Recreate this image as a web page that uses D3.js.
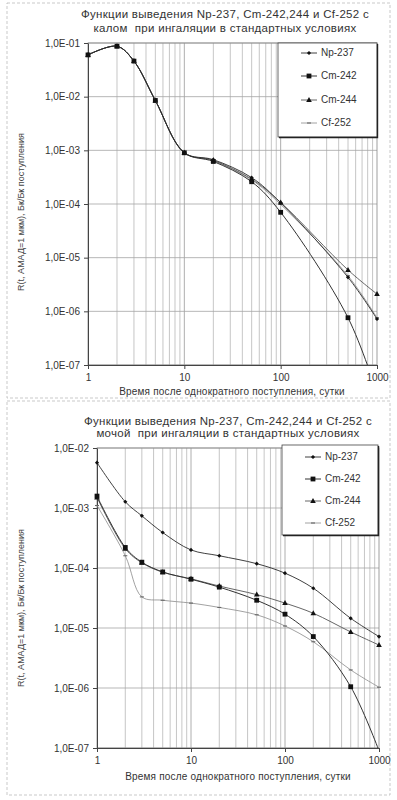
<!DOCTYPE html>
<html>
<head>
<meta charset="utf-8">
<script src="https://cdn.jsdelivr.net/npm/d3@7"></script>
<style>
  body { margin: 0; background: #fff; }
  svg { font-family: "Liberation Sans", Arial, sans-serif; }
  .title { white-space: pre; }
</style>
</head>
<body>
<div id="root"></div>
<script>
// Data: feces (top chart)
const fecesDays = [1, 2, 3, 5, 10, 20, 50, 100, 500, 1000];
const fecesNp237 = [6.0e-2, 8.7e-2, 4.6e-2, 8.5e-3, 9.0e-4, 6.7e-4, 3.1e-4, 1.05e-4, 4.3e-6, 7.2e-7];
const fecesCm242 = [6.0e-2, 8.7e-2, 4.6e-2, 8.5e-3, 9.0e-4, 6.2e-4, 2.6e-4, 7.0e-5, 7.6e-7, 3.0e-8];
const fecesCm244 = [6.0e-2, 8.7e-2, 4.6e-2, 8.5e-3, 9.0e-4, 6.5e-4, 2.9e-4, 1.07e-4, 5.9e-6, 2.1e-6];
const fecesCf252 = [6.0e-2, 8.7e-2, 4.6e-2, 8.5e-3, 9.0e-4, 6.4e-4, 2.8e-4, 9.8e-5, 4.6e-6, 7.6e-7];

// Data: urine (bottom chart)
const urineDays = [1, 2, 3, 5, 10, 20, 50, 100, 200, 500, 1000];
const urineNp237 = [5.7e-3, 1.27e-3, 7.4e-4, 3.9e-4, 2.0e-4, 1.6e-4, 1.18e-4, 8.2e-5, 4.6e-5, 1.45e-5, 7.2e-6];
const urineCm242 = [1.58e-3, 2.2e-4, 1.25e-4, 8.6e-5, 6.5e-5, 4.8e-5, 2.9e-5, 1.7e-5, 7.2e-6, 1.05e-6, 9.0e-8];
const urineCm244 = [1.5e-3, 2.1e-4, 1.22e-4, 8.5e-5, 6.6e-5, 5.0e-5, 3.6e-5, 2.6e-5, 1.76e-5, 8.6e-6, 5.2e-6];
const urineCf252 = [1.1e-3, 1.6e-4, 3.3e-5, 2.9e-5, 2.6e-5, 2.2e-5, 1.66e-5, 1.08e-5, 5.9e-6, 2.0e-6, 1.03e-6];

const seriesNames = ["Np-237", "Cm-242", "Cm-244", "Cf-252"];
const xTickValues = [1, 10, 100, 1000];
const xTickLabels = ["1", "10", "100", "1000"];
const fecesYTicks = [1e-1, 1e-2, 1e-3, 1e-4, 1e-5, 1e-6, 1e-7];
const fecesYLabels = ["1,0E-01", "1,0E-02", "1,0E-03", "1,0E-04", "1,0E-05", "1,0E-06", "1,0E-07"];
const urineYTicks = [1e-2, 1e-3, 1e-4, 1e-5, 1e-6, 1e-7];
const urineYLabels = ["1,0E-02", "1,0E-03", "1,0E-04", "1,0E-05", "1,0E-06", "1,0E-07"];

const titleFeces = ["Функции выведения Np-237, Cm-242,244 и Cf-252 с", "калом  при ингаляции в стандартных условиях"];
const titleUrine = ["Функции выведения Np-237, Cm-242,244 и Cf-252 с", "мочой  при ингаляции в стандартных условиях"];
const xTitle = "Время после однократного поступления, сутки";
const yTitle = "R(t, АМАД=1 мкм), Бк/Бк поступления";

// series styles
const styles = [
  { stroke: "#2a2a2a", width: 0.9, marker: "diamond" },
  { stroke: "#333", width: 1, marker: "square" },
  { stroke: "#555", width: 0.9, marker: "triangle" },
  { stroke: "#8a8a8a", width: 0.8, marker: "dash" }
];

const svg = d3.select("#root")
  .append("svg")
  .attr("width", 397)
  .attr("height", 800);

function marker(g, type, x, y) {
  if (type === "diamond") {
    g.append("path").attr("d", d3.symbol(d3.symbolDiamond2, 11)()).attr("transform", `translate(${x},${y})`).attr("fill", "#111");
  } else if (type === "square") {
    g.append("rect").attr("x", x - 2.4).attr("y", y - 2.4).attr("width", 4.8).attr("height", 4.8).attr("fill", "#111");
  } else if (type === "triangle") {
    g.append("path").attr("d", `M${x},${y - 3}L${x + 2.8},${y + 2}L${x - 2.8},${y + 2}Z`).attr("fill", "#111");
  } else {
    g.append("line").attr("x1", x - 2).attr("x2", x + 2).attr("y1", y).attr("y2", y).attr("stroke", "#666").attr("stroke-width", 1.1);
  }
}

function drawChart(cfg) {
  const g = svg.append("g");

  // outer frame
  g.append("rect")
    .attr("x", cfg.frame[0]).attr("y", cfg.frame[1])
    .attr("width", cfg.frame[2]).attr("height", cfg.frame[3])
    .attr("fill", "none").attr("stroke", "#bbb").attr("stroke-width", 0.8)
    .attr("stroke-dasharray", "3,2");

  const x = d3.scaleLog().domain([1, 1000]).range([cfg.left, cfg.right]);
  const y = d3.scaleLog().domain(cfg.yDomain).range([cfg.bottom, cfg.top]);

  // vertical grid (every integer in each decade)
  const minor = [];
  [1, 10, 100].forEach(d => { for (let k = 1; k <= 9; k++) minor.push(d * k); });
  g.append("g").selectAll("line").data(minor.filter(v => v > 1)).join("line")
    .attr("x1", d => x(d)).attr("x2", d => x(d))
    .attr("y1", cfg.top).attr("y2", cfg.bottom)
    .attr("stroke", d => xTickValues.includes(d) ? "#999" : "#b8b8b8")
    .attr("stroke-width", 0.8);

  // horizontal grid
  g.append("g").selectAll("line").data(cfg.yTicks).join("line")
    .attr("x1", cfg.left).attr("x2", cfg.right)
    .attr("y1", d => y(d)).attr("y2", d => y(d))
    .attr("stroke", "#a5a5a5").attr("stroke-width", 0.8);

  // plot border
  g.append("rect")
    .attr("x", cfg.left).attr("y", cfg.top)
    .attr("width", cfg.right - cfg.left).attr("height", cfg.bottom - cfg.top)
    .attr("fill", "none").attr("stroke", "#888").attr("stroke-width", 0.8);

  // axes
  const xAxis = g.append("g")
    .attr("transform", `translate(0,${cfg.bottom})`)
    .call(d3.axisBottom(x).tickValues(xTickValues).tickFormat((d, i) => xTickLabels[i]).tickSize(4).tickSizeOuter(0));
  xAxis.select(".domain").attr("stroke", "#444");
  xAxis.selectAll("line").attr("stroke", "#444");
  xAxis.selectAll("text").attr("font-size", 10).attr("fill", "#333").attr("dy", "0.9em")
    .attr("font-family", "\"Liberation Sans\", Arial, sans-serif");

  const yAxis = g.append("g")
    .attr("transform", `translate(${cfg.left},0)`)
    .call(d3.axisLeft(y).tickValues(cfg.yTicks).tickFormat((d, i) => cfg.yLabels[i]).tickSize(4).tickSizeOuter(0));
  yAxis.select(".domain").attr("stroke", "#444");
  yAxis.selectAll("line").attr("stroke", "#444");
  yAxis.selectAll("text").attr("font-size", 10).attr("fill", "#333").attr("dx", "-0.1em")
    .attr("font-family", "\"Liberation Sans\", Arial, sans-serif");

  // clip for curves
  const clipId = "clip" + cfg.id;
  svg.append("clipPath").attr("id", clipId).append("rect")
    .attr("x", cfg.left).attr("y", cfg.top)
    .attr("width", cfg.right - cfg.left).attr("height", cfg.bottom - cfg.top);

  const line = d3.line()
    .x(d => x(d[0])).y(d => y(d[1]))
    .curve(d3.curveCatmullRom.alpha(0.5));

  // draw in reverse so Np-237 on top
  for (let s = cfg.series.length - 1; s >= 0; s--) {
    const pts = cfg.days.map((d, i) => [d, cfg.series[s][i]]);
    g.append("path")
      .attr("d", line(pts))
      .attr("clip-path", `url(#${clipId})`)
      .attr("fill", "none")
      .attr("stroke", styles[s].stroke)
      .attr("stroke-width", styles[s].width);
    const mg = g.append("g");
    pts.filter(p => p[1] >= cfg.yDomain[0]).forEach(p => marker(mg, styles[s].marker, x(p[0]), y(p[1])));
  }

  // titles
  cfg.title.forEach((t, i) => {
    g.append("text")
      .attr("class", "title")
      .attr("x", cfg.titleX).attr("y", cfg.titleY[i])
      .attr("text-anchor", "middle").attr("dominant-baseline", "middle")
      .attr("font-size", 11.5).attr("fill", "#333").attr("letter-spacing", 0.3)
      .text(t);
  });

  g.append("text")
    .attr("x", cfg.xTitleX).attr("y", cfg.xTitleY)
    .attr("text-anchor", "middle").attr("dominant-baseline", "middle")
    .attr("font-size", 10).attr("fill", "#333").attr("letter-spacing", 0.2)
    .text(xTitle);

  g.append("text")
    .attr("transform", `translate(${cfg.yTitleX},${cfg.yTitleY}) rotate(-90)`)
    .attr("text-anchor", "middle").attr("dominant-baseline", "middle")
    .attr("font-size", 9).attr("fill", "#444")
    .text(yTitle);

  // legend
  const lg = g.append("g");
  const [lx, ly, lw, lh] = cfg.legend;
  lg.append("rect").attr("x", lx).attr("y", ly).attr("width", lw).attr("height", lh)
    .attr("fill", "#fff").attr("stroke", "#444").attr("stroke-width", 0.8);
  lg.append("path")
    .attr("d", `M${lx + 1},${ly + lh + 0.5}H${lx + lw + 0.5}V${ly + 1}`)
    .attr("fill", "none").attr("stroke", "#222").attr("stroke-width", 1.4);
  seriesNames.forEach((name, i) => {
    const yy = cfg.legendRows[i];
    lg.append("line")
      .attr("x1", lx + 23).attr("x2", lx + 39).attr("y1", yy).attr("y2", yy)
      .attr("stroke", styles[i].stroke).attr("stroke-width", styles[i].width);
    marker(lg, styles[i].marker, lx + 31, yy);
    lg.append("text")
      .attr("x", lx + 43).attr("y", yy)
      .attr("dominant-baseline", "middle")
      .attr("font-size", 10).attr("fill", "#333")
      .text(name);
  });
}

drawChart({
  id: "feces",
  frame: [7, 3, 383, 395],
  left: 88, right: 377, top: 43, bottom: 365,
  yDomain: [1e-7, 1e-1], yTicks: fecesYTicks, yLabels: fecesYLabels,
  days: fecesDays,
  series: [fecesNp237, fecesCm242, fecesCm244, fecesCf252],
  title: titleFeces, titleX: 225, titleY: [15, 29],
  xTitleX: 232, xTitleY: 392,
  yTitleX: 22, yTitleY: 212,
  legend: [278, 43, 99, 94],
  legendRows: [53, 76, 100, 123]
});

drawChart({
  id: "urine",
  frame: [7, 401, 383, 394],
  left: 97, right: 379, top: 448, bottom: 748,
  yDomain: [1e-7, 1e-2], yTicks: urineYTicks, yLabels: urineYLabels,
  days: urineDays,
  series: [urineNp237, urineCm242, urineCm244, urineCf252],
  title: titleUrine, titleX: 228, titleY: [422, 434],
  xTitleX: 238, xTitleY: 777,
  yTitleX: 22, yTitleY: 608,
  legend: [282, 445, 96, 90],
  legendRows: [457, 479, 501, 523]
});
</script>
</body>
</html>
